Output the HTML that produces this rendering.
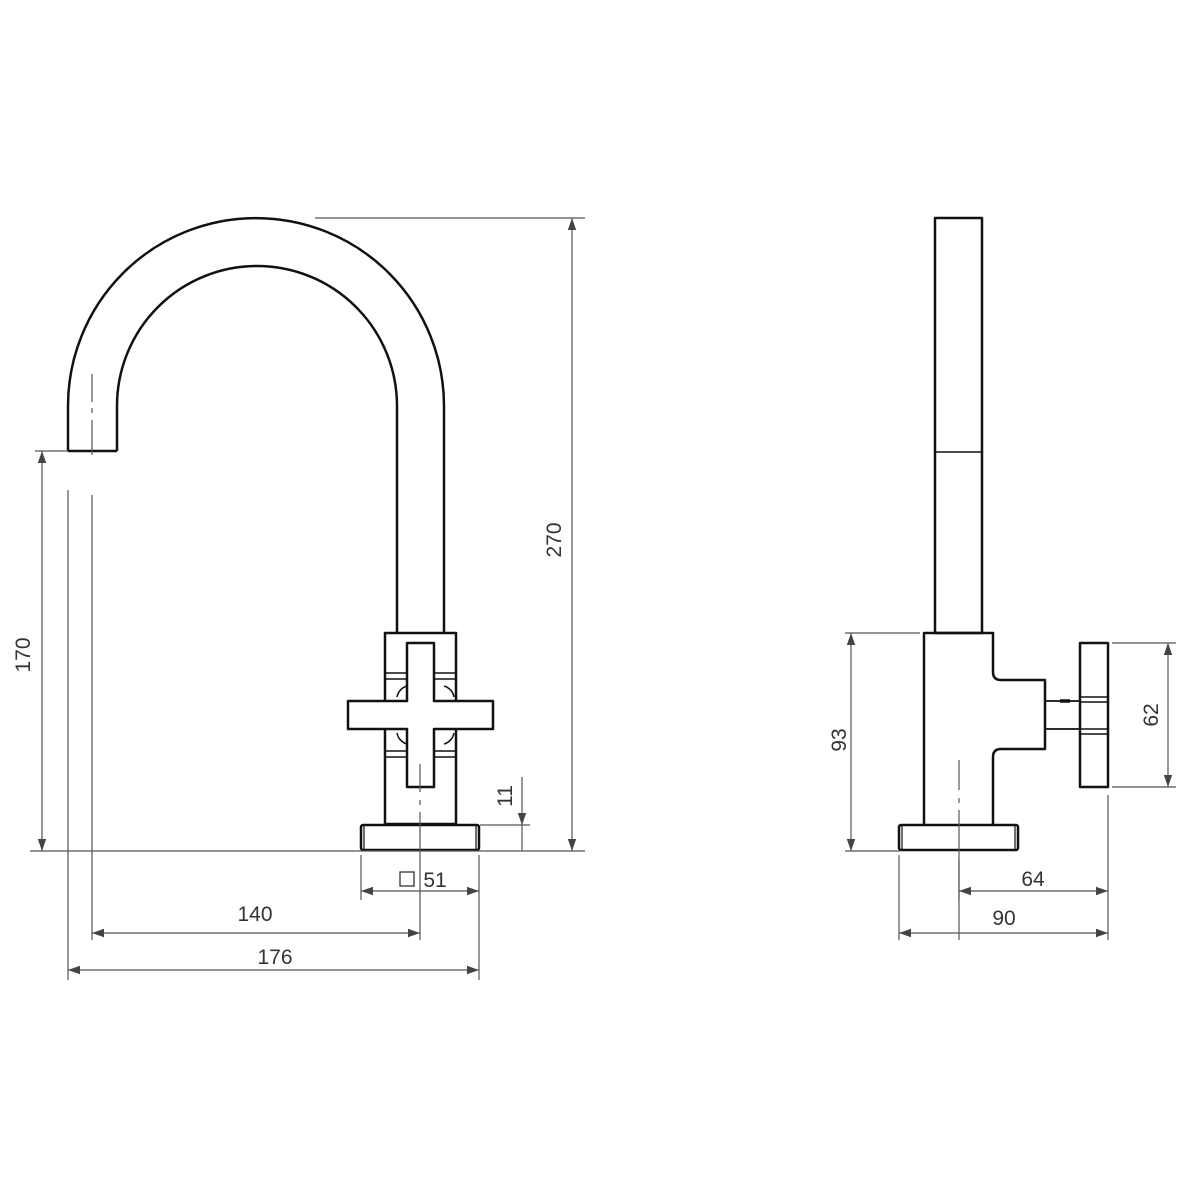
<!DOCTYPE html>
<html><head><style>html,body{margin:0;padding:0;background:#fff}svg{display:block}</style></head><body>
<svg width="1200" height="1200" viewBox="0 0 1200 1200" xmlns="http://www.w3.org/2000/svg">
<defs>
<marker id="a" viewBox="0 0 10 10" refX="10" refY="5" markerWidth="12" markerHeight="12" markerUnits="userSpaceOnUse" orient="auto-start-reverse"><path d="M0,1.5 L10,5 L0,8.5z" fill="#444"/></marker>
</defs>
<g fill="none" stroke="#111" stroke-width="2.5" stroke-linejoin="round">
<!-- spout -->
<path d="M68,451 L68,406 A188,188 0 0 1 444,406 L444,633"/>
<path d="M117,451 L117,406 A140,140 0 0 1 397,406 L397,633"/>
<path d="M68,451 L117,451"/>
<!-- body -->
<rect x="385" y="633" width="71" height="191"/>
<path d="M385,673H407M434,673H456M385,679H407M434,679H456M385,751H407M434,751H456M385,757H407M434,757H456" stroke-width="1.5"/>
<path d="M397,697 A14,14 0 0 1 407,686 M444,686 A14,14 0 0 1 454,697 M397,733 A14,14 0 0 0 407,744 M444,744 A14,14 0 0 0 454,733" stroke-width="1.5"/>
<path d="M407,643 H434 V701 H493 V729 H434 V787 H407 V729 H348 V701 H407 Z" fill="#fff"/>
<rect x="361" y="825" width="118" height="25" rx="2"/>
<path d="M364,826V849M476,826V849" stroke-width="1.2"/>
<!-- right view -->
<rect x="935" y="218" width="47" height="415"/>
<path d="M935,452H982" stroke-width="1.5"/>
<path d="M924,824 V633 H993 V672 Q993,680 1001,680 H1045 V749 H1001 Q993,749 993,757 V824"/>
<path d="M1045,701H1080M1045,729H1080" stroke-width="1.8"/>
<path d="M1060,701H1070" stroke-width="3.5"/>
<rect x="1080" y="643" width="28" height="144"/>
<path d="M1080,697H1108M1080,702H1108M1080,729H1108M1080,734H1108" stroke-width="1.5"/>
<rect x="899" y="825" width="119" height="25" rx="2"/>
<path d="M902,826V849M1015,826V849" stroke-width="1.2"/>
</g>
<g fill="none" stroke="#555" stroke-width="1.2">
<!-- centerlines -->
<path d="M92,374V402M92,408V413M92,420V455M92,495V940" />
<path d="M420,764V792M420,800V805M420,812V940"/>
<path d="M959,760V790M959,798V803M959,810V940"/>
<path d="M68,490V980"/>
<!-- ground lines -->
<path d="M30,851H585"/>
<path d="M845,851H900"/>
<!-- 270 -->
<path d="M315,218H585"/>
<path d="M572,218V851" marker-start="url(#a)" marker-end="url(#a)"/>
<!-- 170 -->
<path d="M35,451H68"/>
<path d="M42,451V851" marker-start="url(#a)" marker-end="url(#a)"/>
<!-- 11 -->
<path d="M480,825H530"/>
<path d="M522,777V825" marker-end="url(#a)"/>
<path d="M522,825V851"/>
<!-- 51 -->
<path d="M361,855V900M479,855V980"/>
<path d="M361,891H479" marker-start="url(#a)" marker-end="url(#a)"/>
<!-- 140 -->
<path d="M92,933H420" marker-start="url(#a)" marker-end="url(#a)"/>
<!-- 176 -->
<path d="M68,970H479" marker-start="url(#a)" marker-end="url(#a)"/>
<!-- 93 -->
<path d="M845,633H920"/>
<path d="M851,633V851" marker-start="url(#a)" marker-end="url(#a)"/>
<!-- 62 -->
<path d="M1112,643H1176M1112,787H1176"/>
<path d="M1168,643V787" marker-start="url(#a)" marker-end="url(#a)"/>
<!-- 64/90 -->
<path d="M899,855V940M1108,795V940M959,860V900"/>
<path d="M959,891H1108" marker-start="url(#a)" marker-end="url(#a)"/>
<path d="M899,933H1108" marker-start="url(#a)" marker-end="url(#a)"/>
</g>
<g font-family="Liberation Sans, sans-serif" font-size="21" fill="#333" text-anchor="middle">
<text x="0" y="0" transform="translate(561,540) rotate(-90)">270</text>
<text x="0" y="0" transform="translate(30,655) rotate(-90)">170</text>
<text x="0" y="0" transform="translate(512,796) rotate(-90)">11</text>
<text x="0" y="0" transform="translate(846,740) rotate(-90)">93</text>
<text x="0" y="0" transform="translate(1158,715) rotate(-90)">62</text>
<text x="435" y="887">51</text>
<text x="255" y="921">140</text>
<text x="275" y="964">176</text>
<text x="1033" y="886">64</text>
<text x="1004" y="925">90</text>
</g>
<rect x="400" y="872" width="14" height="14" fill="none" stroke="#333" stroke-width="1.3"/>
</svg>
</body></html>
